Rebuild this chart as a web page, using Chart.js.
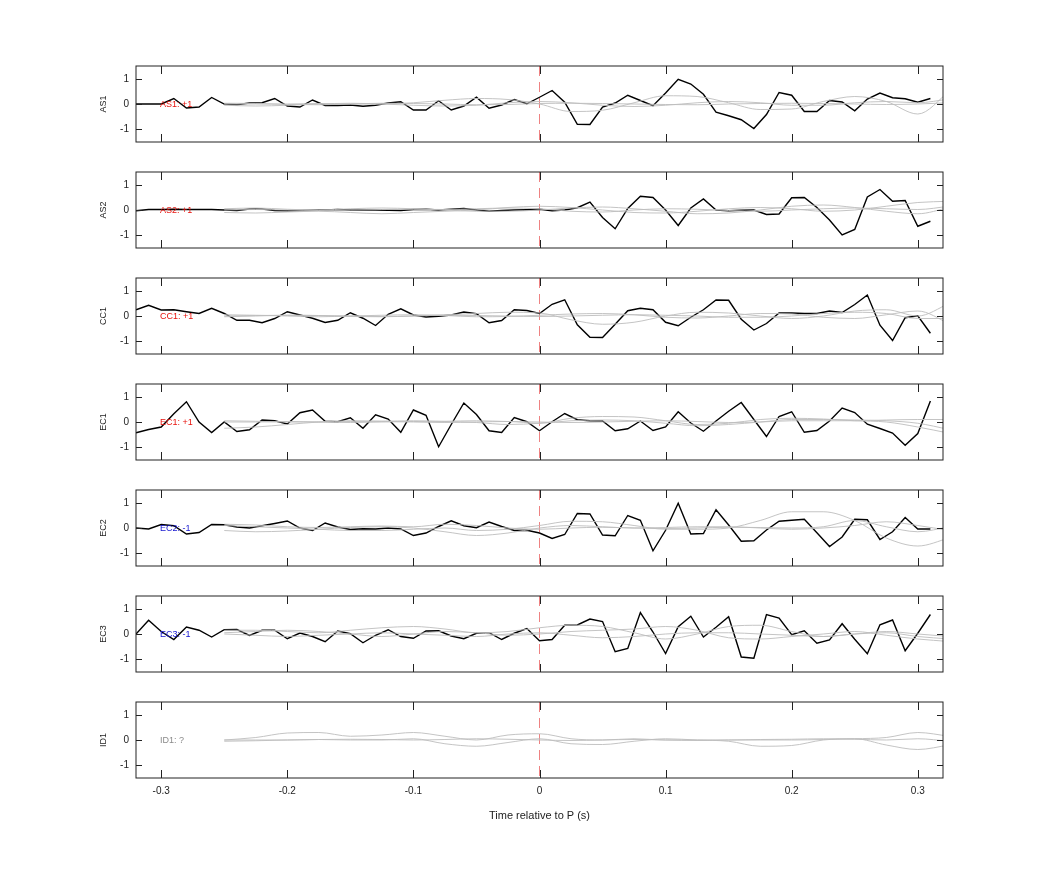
<!DOCTYPE html>
<html>
<head>
<meta charset="utf-8">
<script src="https://cdn.jsdelivr.net/npm/chart.js@4.4.0/dist/chart.umd.min.js"></script>
<style>
  body { margin: 0; background: #fff; }
  .wrap { position: relative; width: 1042px; height: 875px; }
  canvas { position: absolute; left: 0; }
</style>
</head>
<body>
<div class="wrap" id="wrap"></div>
<script>
// black trace sampled every 0.01 s from -0.32 to 0.31
const times = [];
for (let i = 0; i < 64; i++) times.push(+(-0.32 + i * 0.01).toFixed(2));
// grey traces sampled every 0.025 s from -0.25
const greyTimes = [];
for (let i = 0; i < 24; i++) greyTimes.push(+(-0.25 + i * 0.025).toFixed(3));

const channels = ['AS1', 'AS2', 'CC1', 'EC1', 'EC2', 'EC3', 'ID1'];
const polarity = ['+1', '+1', '+1', '+1', '-1', '-1', '?'];

const as1 = [0,0,0,0.22,-0.16,-0.12,0.26,0,-0.03,0.04,0.05,0.22,-0.08,-0.12,0.16,-0.06,-0.06,-0.04,-0.09,-0.05,0.04,0.09,-0.24,-0.24,0.13,-0.24,-0.08,0.27,-0.17,-0.04,0.18,0.01,
  0.27,0.54,0.07,-0.81,-0.82,-0.12,0.04,0.35,0.14,-0.07,0.44,0.99,0.8,0.39,-0.33,-0.47,-0.63,-0.98,-0.42,0.46,0.35,-0.3,-0.3,0.14,0.08,-0.27,0.2,0.44,0.25,0.21,0.07,0.22];
const as2 = [-0.03,0.02,0.02,0.03,0.02,0.02,0.02,0,-0.02,0.04,0.04,-0.02,-0.03,-0.02,-0.01,0,0.02,0,0,0,-0.01,-0.02,0.02,0.03,0,0.03,0.06,0,-0.05,-0.02,0,0.01,
  0.03,-0.03,0,0.09,0.32,-0.3,-0.75,0.06,0.55,0.5,0,-0.62,0.08,0.44,0,-0.03,-0.01,0,-0.18,-0.16,0.49,0.5,0.1,-0.4,-1.0,-0.78,0.52,0.82,0.35,0.38,-0.65,-0.45];
const cc1 = [0.25,0.43,0.24,0.25,0.17,0.1,0.31,0.1,-0.17,-0.17,-0.27,-0.1,0.17,0.04,-0.09,-0.26,-0.17,0.13,-0.09,-0.38,0.07,0.29,0.04,-0.04,-0.01,0.04,0.16,0.09,-0.27,-0.18,0.25,0.22,
  0.1,0.47,0.65,-0.35,-0.85,-0.86,-0.33,0.21,0.31,0.25,-0.25,-0.39,-0.05,0.25,0.64,0.63,-0.13,-0.56,-0.3,0.12,0.12,0.1,0.1,0.2,0.14,0.46,0.84,-0.37,-0.98,-0.07,0.01,-0.69];
const ec1 = [-0.43,-0.3,-0.2,0.33,0.81,0,-0.42,0,-0.38,-0.31,0.08,0.05,-0.08,0.37,0.48,0.03,0.01,0.17,-0.25,0.29,0.12,-0.41,0.48,0.27,-0.99,-0.1,0.76,0.3,-0.35,-0.42,0.18,0.01,
  -0.35,0.01,0.34,0.09,0.05,0.04,-0.35,-0.27,0.04,-0.34,-0.2,0.41,-0.04,-0.37,0.04,0.43,0.78,0.1,-0.58,0.22,0.41,-0.41,-0.34,0.04,0.56,0.38,-0.09,-0.26,-0.44,-0.93,-0.46,0.84];
const ec2 = [0,-0.04,0.14,0.09,-0.24,-0.18,0.14,0.13,0.04,0,0.09,0.18,0.28,0,-0.1,0.2,0.04,-0.06,-0.03,-0.04,0,-0.04,-0.3,-0.2,0.06,0.29,0.09,0.01,0.24,0.06,-0.1,-0.09,
  -0.2,-0.42,-0.26,0.58,0.56,-0.28,-0.31,0.5,0.31,-0.91,-0.09,0.99,-0.24,-0.22,0.73,0.12,-0.53,-0.51,-0.08,0.27,0.31,0.35,-0.19,-0.74,-0.36,0.35,0.33,-0.46,-0.15,0.42,-0.04,-0.04];
const ec3 = [0,0.55,0.1,-0.22,0.28,0.15,-0.12,0.17,0.18,-0.06,0.15,0.15,-0.19,0.04,-0.1,-0.31,0.12,0.01,-0.35,-0.05,0.17,-0.1,-0.17,0.12,0.13,-0.08,-0.19,0.03,0.05,-0.22,0.03,0.22,
  -0.27,-0.22,0.35,0.36,0.6,0.5,-0.71,-0.58,0.86,0.08,-0.78,0.29,0.71,-0.12,0.27,0.69,-0.92,-0.97,0.78,0.64,-0.03,0.13,-0.37,-0.24,0.41,-0.21,-0.79,0.37,0.56,-0.67,0.03,0.78];
const blackTraces = [as1, as2, cc1, ec1, ec2, ec3, null];

const greyTraces = [
  [ // AS1
    [0,0,0,0.02,0,0,0.05,0.15,0.22,0.18,0,-0.3,-0.25,0.05,0.33,0.3,0.05,-0.22,-0.2,0.1,0.3,0.1,-0.4,0.5],
    [-0.05,-0.08,-0.05,0,0.03,0,-0.05,-0.08,-0.05,0.05,0.1,0.05,-0.05,-0.1,-0.05,0.05,0.1,0.05,-0.05,-0.05,0.05,0.1,0.05,0.2],
    [0.03,0.02,-0.02,-0.03,0,0.03,0.02,0,-0.03,-0.02,0.02,0.03,0.02,0,-0.02,-0.03,0,0.02,0.03,0.02,0,-0.02,0,0.05]
  ],
  [ // AS2
    [-0.1,-0.12,-0.08,-0.05,-0.1,-0.15,-0.1,-0.05,0,0.1,0.15,0.1,0,-0.1,-0.12,-0.05,0.05,0.1,0.05,-0.05,0,0.15,0.3,0.35],
    [0.05,0.08,0.03,0,0.05,0.08,0.05,0,-0.05,-0.05,0,0.08,0.12,0.05,-0.05,-0.15,-0.12,0,0.15,0.2,0.1,-0.05,-0.15,0.1],
    [0,0.02,0,-0.02,0,0.02,0.03,0.02,0.05,0.08,0.05,-0.05,-0.08,0,0.05,0.03,-0.02,-0.05,0,0.05,0.08,0.05,0.02,0.15]
  ],
  [ // CC1
    [0,0.02,0.03,0.02,0,-0.02,0,0.05,0.1,0.15,0.12,-0.15,-0.33,-0.25,0,0.15,0.12,0,-0.1,0,0.2,0.25,0,0.5],
    [0.05,0.03,0,-0.03,0,0.03,0.05,0.02,-0.03,-0.02,0.03,0.08,0.1,0.05,-0.05,-0.08,0,0.1,0.08,-0.05,-0.1,0.05,0.2,-0.3],
    [-0.03,0,0.03,0.02,-0.02,-0.03,0,0.03,0.02,0,-0.02,0,0.03,0.05,0.03,0,-0.05,-0.05,0,0.1,0.15,0.1,-0.1,-0.1]
  ],
  [ // EC1
    [-0.25,-0.2,-0.1,0,0.05,0.03,0,-0.02,0,0.02,-0.05,0.15,0.22,0.2,0.05,-0.1,-0.05,0.1,0.15,0.12,0.05,0,-0.2,-0.45],
    [0.05,0.03,0,0,0.02,0.03,0.05,0.02,-0.02,-0.1,-0.05,0.05,0.08,0.05,-0.05,-0.15,-0.1,0,0.1,0.1,0.08,0.05,-0.05,-0.3],
    [0,0,0.02,0,-0.02,0,0.02,0.03,0.05,0.02,0,-0.02,0,0.03,0.05,0.02,-0.02,0,0.05,0.05,0.05,0.08,0.1,0.1]
  ],
  [ // EC2
    [0.1,0.05,0,-0.05,-0.1,-0.1,-0.05,0,-0.1,-0.05,0.1,0.27,0.25,0.1,-0.05,-0.05,0,0.3,0.65,0.65,0.3,-0.4,-0.72,-0.4],
    [-0.1,-0.15,-0.12,-0.05,0.02,0.05,0,-0.15,-0.3,-0.2,0,0.1,0.05,0,0.02,0.05,0.05,0,-0.05,0,0.1,0.25,0.1,-0.1],
    [0.15,0.12,0.05,0.02,0.05,0.08,0.05,0.15,0.1,0,-0.05,0,0.03,0,-0.02,0,0.03,0.02,0,0.05,0.3,0.05,-0.15,0.05]
  ],
  [ // EC3
    [0.15,0.15,0.1,0.05,0.15,0.25,0.3,0.2,0.05,0.1,0.25,0.35,0.3,0.05,-0.2,0,0.3,0.35,0.1,-0.1,0,0.1,0,-0.1],
    [0.05,0.1,0.15,0.1,0,-0.1,0,0.1,0.05,-0.05,0,0.1,0.15,0.2,0.3,0.15,-0.15,-0.2,-0.1,0,0.1,-0.05,-0.2,-0.3],
    [0,-0.05,-0.1,-0.05,0,0.05,0,-0.05,-0.1,0,0.05,-0.05,-0.15,-0.1,0,0.05,0.05,0,-0.05,-0.1,0,0.05,-0.1,-0.2]
  ],
  [ // ID1
    [0,0.1,0.28,0.3,0.15,0.2,0.3,0.15,0,0.2,0.25,0.05,0,0.05,0,0,0,0,0,0.02,0.05,0.1,0.3,0.15],
    [0,0,0,0.02,0,0,0.05,-0.15,-0.25,-0.1,0.05,-0.15,-0.18,-0.05,0.05,0,-0.05,-0.25,-0.22,0,0.05,-0.2,-0.38,-0.2],
    [-0.05,-0.03,0,0.02,0.03,0.02,0,0.02,0.05,0.03,0,-0.02,0,0.02,0,-0.02,0,0.02,0.03,0.05,0.03,0,0.05,-0.05]
  ]
];

const xTicks = [-0.3, -0.2, -0.1, 0, 0.1, 0.2, 0.3];
const yTicks = [-1, 0, 1];

const panelTops = [66, 172, 278, 384, 490, 596, 702];
const PAD_TOP = 12;
const PANEL_H = 76;
const FONT = '"Liberation Sans", Arial, sans-serif';

const labelColor = { '+1': '#e8120c', '-1': '#1515d0', '?': '#8a8a8a' };

// frame, inward ticks, tick labels, zero line and channel labels
const decor = {
  id: 'decor',
  beforeDatasetsDraw(chart, args, opts) {
    const { ctx, chartArea: a, scales: { x } } = chart;
    const zx = x.getPixelForValue(0);
    ctx.save();
    ctx.strokeStyle = 'rgba(230,70,70,0.85)';
    ctx.lineWidth = 0.8;
    ctx.setLineDash([10, 6]);
    ctx.beginPath();
    ctx.moveTo(zx, a.top);
    ctx.lineTo(zx, a.bottom);
    ctx.stroke();
    ctx.restore();
  },
  afterDraw(chart, args, opts) {
    const { ctx, chartArea: a, scales: { x, y } } = chart;
    ctx.save();
    ctx.strokeStyle = '#222';
    ctx.lineWidth = 1;
    ctx.strokeRect(a.left, a.top, a.right - a.left, a.bottom - a.top);
    ctx.beginPath();
    xTicks.forEach(v => {
      const px = Math.round(x.getPixelForValue(v)) + 0.5;
      ctx.moveTo(px, a.top); ctx.lineTo(px, a.top + 8);
      ctx.moveTo(px, a.bottom); ctx.lineTo(px, a.bottom - 8);
    });
    yTicks.forEach(v => {
      const py = Math.round(y.getPixelForValue(v)) + 0.5;
      ctx.moveTo(a.left, py); ctx.lineTo(a.left + 6, py);
      ctx.moveTo(a.right, py); ctx.lineTo(a.right - 6, py);
    });
    ctx.stroke();

    ctx.font = '10px ' + FONT;
    ctx.fillStyle = '#222';
    ctx.textAlign = 'right';
    ctx.textBaseline = 'middle';
    yTicks.forEach(v => ctx.fillText(String(v), a.left - 7, y.getPixelForValue(v)));

    // channel label inside the panel
    ctx.font = '9px ' + FONT;
    ctx.textAlign = 'left';
    ctx.fillStyle = labelColor[opts.pol];
    ctx.fillText(opts.name + ': ' + opts.pol, 160, y.getPixelForValue(0) + 1);

    if (opts.last) {
      ctx.font = '10px ' + FONT;
      ctx.fillStyle = '#222';
      ctx.textAlign = 'center';
      ctx.textBaseline = 'top';
      xTicks.forEach(v => ctx.fillText(String(v), x.getPixelForValue(v), a.bottom + 8));
      ctx.font = '11px ' + FONT;
      ctx.fillText('Time relative to P (s)', (a.left + a.right) / 2, a.bottom + 32);
    }

    // y title
    ctx.font = '9px ' + FONT;
    ctx.fillStyle = '#222';
    ctx.textAlign = 'center';
    ctx.textBaseline = 'middle';
    ctx.translate(104, (a.top + a.bottom) / 2);
    ctx.rotate(-Math.PI / 2);
    ctx.fillText(opts.name, 0, 0);
    ctx.restore();
  }
};

const wrap = document.getElementById('wrap');

channels.forEach((name, k) => {
  const last = k === channels.length - 1;
  const canvas = document.createElement('canvas');
  const bottom = last ? 60 : 12;
  const h = PAD_TOP + PANEL_H + bottom;
  canvas.style.top = (panelTops[k] - PAD_TOP) + 'px';
  canvas.style.width = '1042px';
  canvas.style.height = h + 'px';
  canvas.width = 1042;
  canvas.height = h;
  wrap.appendChild(canvas);

  const datasets = greyTraces[k].map(g => ({
    data: greyTimes.map((t, i) => ({ x: t, y: g[i] })),
    borderColor: 'rgba(190,190,190,0.9)',
    borderWidth: 1,
    pointRadius: 0,
    cubicInterpolationMode: 'monotone'
  }));
  if (blackTraces[k]) {
    datasets.push({
      data: times.map((t, i) => ({ x: t, y: blackTraces[k][i] })),
      borderColor: '#000',
      borderWidth: 1.4,
      pointRadius: 0,
      tension: 0
    });
  }

  new Chart(canvas, {
    type: 'line',
    data: { datasets },
    plugins: [decor],
    options: {
      responsive: false,
      animation: false,
      events: [],
      layout: { padding: { top: PAD_TOP, right: 1042 - 943, left: 136, bottom: bottom } },
      plugins: {
        legend: { display: false },
        tooltip: { enabled: false },
        decor: { name, pol: polarity[k], last }
      },
      scales: {
        x: {
          type: 'linear',
          min: -0.32, max: 0.32,
          display: false
        },
        y: {
          min: -1.52, max: 1.52,
          display: false
        }
      }
    }
  });
});
</script>
</body>
</html>
